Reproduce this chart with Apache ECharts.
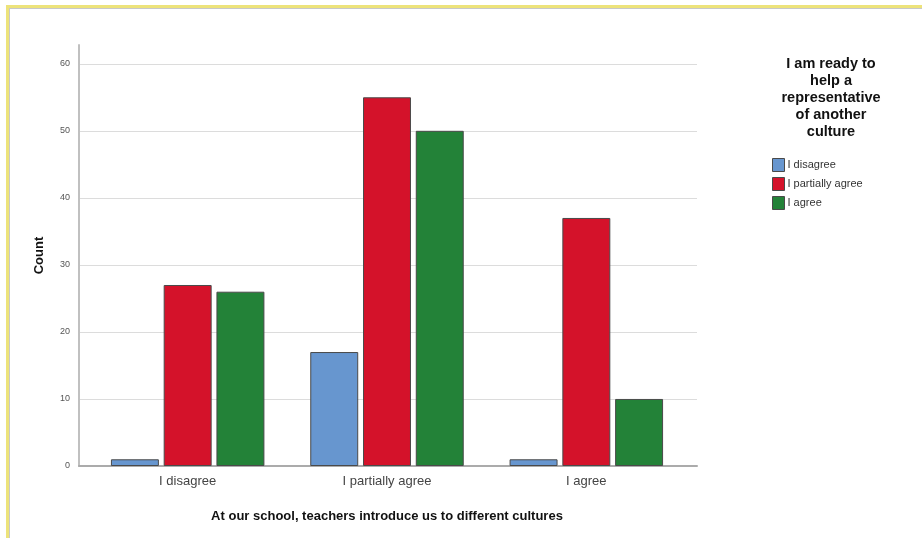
<!DOCTYPE html>
<html>
<head>
<meta charset="utf-8">
<script src="https://cdn.jsdelivr.net/npm/echarts@6/dist/echarts.min.js"></script>
<style>
html,body{margin:0;padding:0;background:#fff;}
#frame{position:absolute;left:6px;top:5px;width:940px;height:560px;border-top:3px solid #EDE37A;border-left:3px solid #EDE37A;box-shadow:inset 1px 1px 0 #c8c8c8;}
#chart{position:absolute;left:0;top:0;width:922px;height:538px;}
</style>
</head>
<body>
<div id="frame"></div>
<div id="chart"></div>
<script>
const categories = ['I disagree', 'I partially agree', 'I agree'];
const seriesNames = ['I disagree', 'I partially agree', 'I agree'];
const disagreeValues = [1, 17, 1];
const partiallyValues = [27, 55, 37];
const agreeValues = [26, 50, 10];
const yTicks = [0, 10, 20, 30, 40, 50, 60];
const colors = ['#6796CF', '#D4122A', '#238238'];
const legendTitle = 'I am ready to\nhelp a\nrepresentative\nof another\nculture';
const xTitle = 'At our school, teachers introduce us to different cultures';
const yTitle = 'Count';

const FONT = 'Liberation Sans, Arial';
const Y_MAX = 62.8;
const chart = echarts.init(document.getElementById('chart'), null, {renderer: 'canvas'});
const valueSets = [disagreeValues, partiallyValues, agreeValues];
const series = seriesNames.map((n, i) => ({
  name: n,
  type: 'bar',
  xAxisIndex: 0,
  yAxisIndex: 0,
  data: valueSets[i],
  barGap: '10%',
  barCategoryGap: '23%',
  z: 3,
  itemStyle: {color: colors[i], borderColor: '#4a4a4a', borderWidth: 1},
  emphasis: {disabled: true}
}));

chart.setOption({
  animation: false,
  backgroundColor: 'transparent',
  title: {
    text: legendTitle,
    left: 826,
    top: 50,
    textAlign: 'center',
    textStyle: {fontFamily: FONT, fontSize: 14.5, fontWeight: 'bold', color: '#111', lineHeight: 17}
  },
  legend: {
    orient: 'vertical',
    left: 767,
    top: 153,
    itemWidth: 12,
    itemHeight: 13,
    itemGap: 5,
    icon: 'rect',
    data: seriesNames,
    itemStyle: {borderColor: '#4a4a4a', borderWidth: 1},
    textStyle: {fontFamily: FONT, fontSize: 11, color: '#333', padding: [0, 0, 0, -2]}
  },
  grid: [
    {left: 88, right: 236, top: 45, bottom: 72, containLabel: false},
    {left: 79, right: 225, top: 45, bottom: 72, containLabel: false}
  ],
  xAxis: [
    {
      type: 'category',
      gridIndex: 0,
      data: categories,
      axisLine: {show: false},
      axisTick: {show: false},
      axisLabel: {fontFamily: FONT, fontSize: 13, color: '#444', margin: 9},
      name: xTitle,
      nameLocation: 'middle',
      nameGap: 44,
      nameTextStyle: {fontFamily: FONT, fontSize: 13, fontWeight: 'bold', color: '#111'}
    },
    {
      type: 'value',
      gridIndex: 1,
      min: 0,
      max: 1,
      axisLine: {show: true, onZero: false, lineStyle: {color: '#ababab', width: 2}},
      axisTick: {show: false},
      axisLabel: {show: false},
      splitLine: {show: false}
    }
  ],
  yAxis: [
    {
      type: 'value',
      gridIndex: 0,
      min: 0,
      max: Y_MAX,
      interval: 10,
      axisLine: {show: false},
      axisTick: {show: false},
      axisLabel: {show: false},
      splitLine: {show: false}
    },
    {
      type: 'value',
      gridIndex: 1,
      min: 0,
      max: Y_MAX,
      interval: 10,
      axisLine: {show: true, lineStyle: {color: '#c0c0c0', width: 2}},
      axisTick: {show: false},
      axisLabel: {
        fontFamily: FONT, fontSize: 9, color: '#555', margin: 9,
        showMaxLabel: false,
        formatter: v => (yTicks.indexOf(v) >= 0 ? String(v) : '')
      },
      splitLine: {show: true, showMinLine: false, showMaxLine: false, lineStyle: {color: '#dcdcdc', width: 1}},
      name: yTitle,
      nameLocation: 'middle',
      nameGap: 33,
      nameRotate: 90,
      nameTextStyle: {fontFamily: FONT, fontSize: 13, fontWeight: 'bold', color: '#111'}
    }
  ],
  series: series
});
</script>
</body>
</html>
